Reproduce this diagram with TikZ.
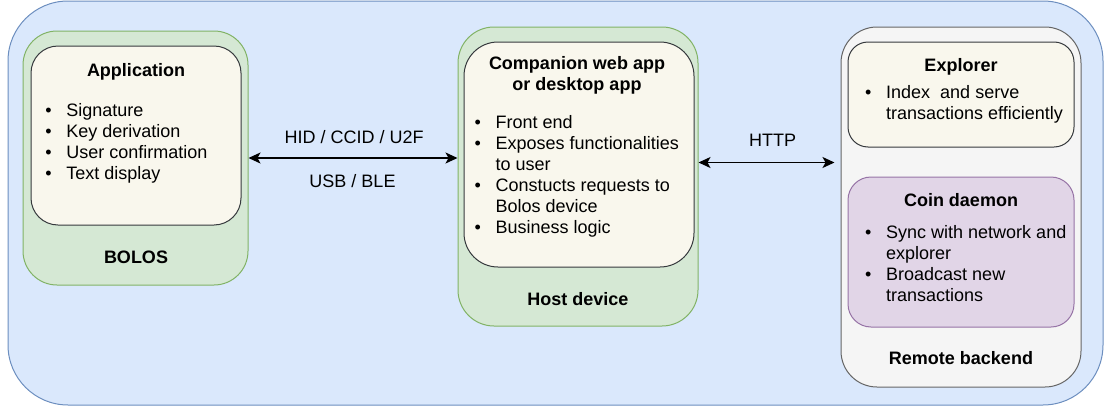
\documentclass[tikz,border=0pt]{standalone}
\usepackage{fontspec}
\setmainfont{Liberation Sans}
\usetikzlibrary{arrows.meta}
\definecolor{bluefill}{HTML}{DAE8FC}
\definecolor{bluedraw}{HTML}{6C8EBF}
\definecolor{greenfill}{HTML}{D5E8D4}
\definecolor{greendraw}{HTML}{82B366}
\definecolor{creamfill}{HTML}{F9F7ED}
\definecolor{creamdraw}{HTML}{36393D}
\definecolor{grayfill}{HTML}{F5F5F5}
\definecolor{graydraw}{HTML}{666666}
\definecolor{purplefill}{HTML}{E1D5E7}
\definecolor{purpledraw}{HTML}{9673A6}
\newcommand{\blt}{\makebox[21pt][l]{\textbullet}}
\newcommand{\bltgap}{\hspace*{21pt}}
\begin{document}
\begin{tikzpicture}[x=1pt,y=-1pt,
    font=\fontsize{18}{21}\selectfont,
    box/.style={draw,line width=1pt,inner sep=0pt},
    title/.style={anchor=base,inner sep=0pt,font=\fontsize{18}{21}\selectfont\bfseries},
    label/.style={anchor=base,inner sep=0pt},
    items/.style={anchor=base west,align=left,inner sep=0pt},
    link/.style={line width=1.3pt,{Stealth[length=12pt,width=11pt,inset=3pt]}-{Stealth[length=12pt,width=11pt,inset=3pt]}}]
  \useasboundingbox (0,0) rectangle (1104,407);
  % containers
  \node[box,fill=bluefill,draw=bluedraw,rounded corners=60pt,
    minimum width=1095pt,minimum height=404pt] (outer) at (555.5,203) {};
  \node[box,fill=greenfill,draw=greendraw,rounded corners=34pt,
    minimum width=225pt,minimum height=254pt] (bolos) at (135.5,158) {};
  \node[box,fill=creamfill,draw=creamdraw,rounded corners=27pt,
    minimum width=210pt,minimum height=179pt] (app) at (136,135.5) {};
  \node[box,fill=greenfill,draw=greendraw,rounded corners=36pt,
    minimum width=240pt,minimum height=299pt] (host) at (578,176.5) {};
  \node[box,fill=creamfill,draw=creamdraw,rounded corners=34pt,
    minimum width=230pt,minimum height=225pt] (companion) at (579,154.5) {};
  \node[box,fill=grayfill,draw=graydraw,rounded corners=36pt,
    minimum width=240pt,minimum height=360pt] (remote) at (961,207) {};
  \node[box,fill=creamfill,draw=creamdraw,rounded corners=20pt,
    minimum width=226pt,minimum height=105pt] (explorer) at (961,94.5) {};
  \node[box,fill=purplefill,draw=purpledraw,rounded corners=23pt,
    minimum width=226pt,minimum height=150pt] (coin) at (961,252) {};
  % titles
  \node[title] (apptitle) at (136,76) {Application};
  \node[title] (bolostitle) at (136,263) {BOLOS};
  \node[title] (comptitle1) at (577,69.3) {Companion web app};
  \node[title] (comptitle2) at (577,90.3) {or desktop app};
  \node[title] (hosttitle) at (578,305.5) {Host device};
  \node[title] (explorertitle) at (961,71.7) {Explorer};
  \node[title] (cointitle) at (961,206.7) {Coin daemon};
  \node[title] (remotetitle) at (961,364.3) {Remote backend};
  % bullet lists (base = last line)
  \node[items] (applist) at (45.2,179) {\blt Signature\\ \blt Key derivation\\
    \blt User confirmation\\ \blt Text display};
  \node[items] (complist) at (474.5,233.5) {\blt Front end\\ \blt Exposes functionalities\\
    \bltgap to user\\ \blt Constucts requests to\\ \bltgap Bolos device\\ \blt Business logic};
  \node[items] (explorerlist) at (865,119.5) {\blt Index\ \ and serve\\
    \bltgap transactions efficiently};
  \node[items] (coinlist) at (865,301.3) {\blt Sync with network and\\ \bltgap explorer\\
    \blt Broadcast new\\ \bltgap transactions};
  % links
  \coordinate (httpy) at (0,162.5);
  \draw[link] (bolos.east) -- (bolos.east -| host.west);
  \draw[link,shorten >=6pt] (host.east |- httpy) -- (remote.west |- httpy);
  \node[label] (hid) at (354.2,143.3) {HID / CCID / U2F};
  \node[label] (usb) at (352.5,187.3) {USB / BLE};
  \node[label] (http) at (772.5,146.7) {HTTP};
\end{tikzpicture}
\end{document}
